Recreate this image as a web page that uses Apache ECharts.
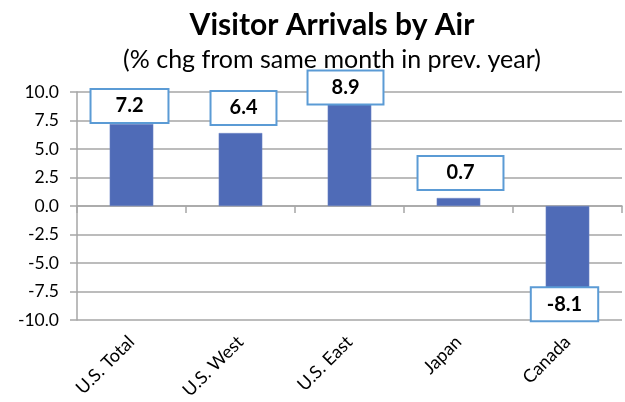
<!DOCTYPE html>
<html>
<head>
<meta charset="utf-8">
<script src="https://cdn.jsdelivr.net/npm/echarts@6/dist/echarts.min.js"></script>
<style>
  html, body { margin: 0; padding: 0; background: #fff; }
  #chart { width: 625px; height: 402px; }
</style>
</head>
<body>
<div id="chart"></div>
<script>
// ---- data ----
const categories = ['U.S. Total', 'U.S. West', 'U.S. East', 'Japan', 'Canada'];
const values = [7.2, 6.4, 8.9, 0.7, -8.1];
const yTicks = { min: -10, max: 10, step: 2.5 };
const titleText = 'Visitor Arrivals by Air';
const subtitleText = '(% chg from same month in prev. year)';

// ---- label box styling (per bar, style only) ----
const labelBoxStyle = [
  { padH: 24, dist: 2, dx: -2 },
  { padH: 18, dist: 9, dx: 3 },
  { padH: 23, dist: 1, dx: -4 },
  { padH: 28, dist: 9, dx: 2 },
  { padH: 15, dist: -10, dx: -3 }
];

const FONT = 'Lato';
const gridColor = '#a6a6a6';

const seriesData = values.map((v, i) => {
  const s = labelBoxStyle[i];
  return {
    value: v,
    label: {
      position: 'outside',
      distance: s.dist,
      offset: [s.dx, 0],
      padding: [5, s.padH, 5, s.padH]
    }
  };
});

const chart = echarts.init(document.getElementById('chart'), null, { renderer: 'canvas' });
chart.setOption({
  backgroundColor: '#ffffff',
  animation: false,
  title: [
    {
      text: titleText,
      left: 327, top: 5, textAlign: 'center',
      textStyle: { fontFamily: FONT, fontWeight: 'bold', fontSize: 30, color: '#000' }
    },
    {
      text: subtitleText,
      left: 327, top: 42, textAlign: 'center',
      textStyle: { fontFamily: FONT, fontWeight: 'normal', fontSize: 25, color: '#000' }
    }
  ],
  grid: { left: 77, right: 3, top: 92, bottom: 82, containLabel: false },
  xAxis: [
    {
      type: 'category',
      data: categories,
      position: 'bottom',
      axisLine: { show: false, onZero: false },
      axisTick: { show: false },
      axisLabel: {
        rotate: 45, margin: 19, interval: 0,
        fontFamily: FONT, fontSize: 18, color: '#000'
      }
    },
    {
      type: 'category',
      data: categories,
      position: 'top',
      axisLine: { show: true, onZero: true, lineStyle: { color: gridColor, width: 1.5 } },
      axisTick: { show: true, inside: true, length: 7, lineStyle: { color: gridColor, width: 1.5 } },
      axisLabel: { show: false }
    }
  ],
  yAxis: {
    type: 'value',
    min: yTicks.min, max: yTicks.max, interval: yTicks.step,
    axisLine: { show: true, lineStyle: { color: gridColor, width: 1.5 } },
    axisTick: { show: true, length: 7, lineStyle: { color: gridColor, width: 1.5 } },
    axisLabel: {
      margin: 18, fontFamily: FONT, fontSize: 17.5, color: '#000',
      formatter: v => v.toFixed(1)
    },
    splitLine: { show: true, lineStyle: { color: gridColor, width: 1.5 } }
  },
  series: [{
    type: 'bar',
    xAxisIndex: 0,
    data: seriesData,
    barWidth: '40%',
    itemStyle: { color: '#4f6bb7', borderColor: '#6f86c6', borderWidth: 0.5 },
    label: {
      show: true,
      fontFamily: FONT, fontWeight: 'bold', fontSize: 20, color: '#000',
      lineHeight: 22,
      backgroundColor: '#fff',
      borderColor: '#5b9bd5', borderWidth: 2,
      formatter: p => p.value.toFixed(1)
    }
  }]
});
</script>
</body>
</html>
